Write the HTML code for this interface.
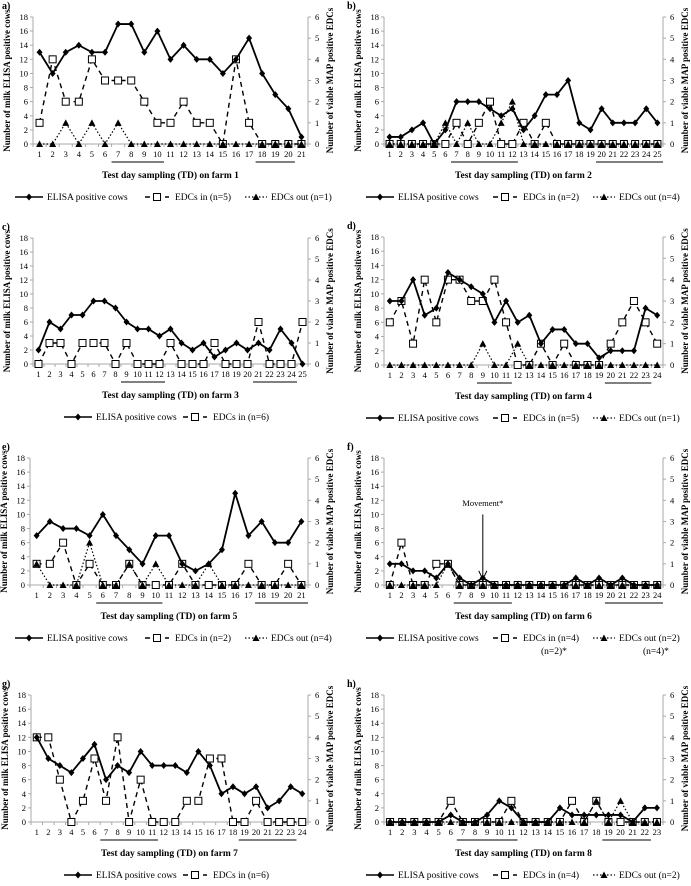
<!DOCTYPE html>
<html><head><meta charset="utf-8"><style>
html,body{margin:0;padding:0;background:#fff;}
svg, svg text{font-family:"Liberation Serif","DejaVu Serif",serif;}
</style></head><body>
<svg id="fig" width="691" height="881" viewBox="0 0 691 881" xmlns="http://www.w3.org/2000/svg" font-family="Liberation Serif, serif"></svg>
<script>
const elisaA=[13,10,13,14,13,13,17,17,13,16,12,14,12,12,10,12,15,10,7,5,1];
const inA=[1,4,2,2,4,3,3,3,2,1,1,2,1,1,0,4,1,0,0,0,0];
const outA=[0,0,1,0,1,0,1,0,0,0,0,0,0,0,0,0,0,0,0,0,0];
const elisaB=[1,1,2,3,0,2,6,6,6,5,4,5,2,4,7,7,9,3,2,5,3,3,3,5,3];
const inB=[0,0,0,0,0,0,1,0,1,2,0,0,1,0,1,0,0,0,0,0,0,0,0,0,0];
const outB=[0,0,0,0,0,1,0,1,0,0,1,2,0,0,0,0,0,0,0,0,0,0,0,0,0];
const elisaC=[2,6,5,7,7,9,9,8,6,5,5,4,5,3,2,3,1,2,3,2,3,2,5,3,0];
const inC=[0,1,1,0,1,1,1,0,1,0,0,0,1,0,0,0,1,0,0,0,2,0,0,0,2];
const elisaD=[9,9,12,7,8,13,12,11,10,6,9,6,7,3,5,5,3,3,1,2,2,2,8,7];
const inD=[2,3,1,4,2,4,4,3,3,4,2,0,0,1,0,1,0,0,0,1,2,3,2,1];
const outD=[0,0,0,0,0,0,0,0,1,0,0,1,0,0,0,0,0,0,0,0,0,0,0,0];
const elisaE=[7,9,8,8,7,10,7,5,3,7,7,3,2,3,5,13,7,9,6,6,9];
const inE=[1,1,2,0,1,0,0,1,0,0,0,1,0,0,0,0,1,0,0,1,0];
const outE=[1,0,0,0,2,0,0,1,0,1,0,0,0,1,0,0,0,0,0,0,0];
const elisaF=[3,3,2,2,1,3,1,0,1,0,0,0,0,0,0,0,1,0,1,0,1,0,0,0];
const inF=[0,2,0,0,1,1,0,0,0,0,0,0,0,0,0,0,0,0,0,0,0,0,0,0];
const outF=[0,0,0,0,0,1,0,0,0,0,0,0,0,0,0,0,0,0,0,0,0,0,0,0];
const elisaG=[12,9,8,7,9,11,6,8,7,10,8,8,8,7,10,8,4,5,4,5,2,3,5,4];
const inG=[4,4,2,0,1,3,1,4,0,2,0,0,0,1,1,3,3,0,0,1,0,0,0,0];
const elisaH=[0,0,0,0,0,1,0,0,1,3,2,0,0,0,2,1,1,1,1,1,0,2,2];
const inH=[0,0,0,0,0,1,0,0,0,0,1,0,0,0,0,1,0,1,0,0,0,0,0];
const outH=[0,0,0,0,0,0,0,0,0,0,0,0,0,0,0,0,0,1,0,1,0,0,0];
const leftTicks=[0,2,4,6,8,10,12,14,16,18];
const rightTicks=[0,1,2,3,4,5,6];

const panels=[
 {k:'a',farm:1,ox:0,oy:0,L:33,R:308,top:17,zero:144,e:elisaA,i:inA,o:outA,u:[[7,10],[18,20]],ni:5,no:1},
 {k:'b',farm:2,ox:345,oy:0,L:39,R:318,top:17,zero:144,e:elisaB,i:inB,o:outB,u:[[7,12],[20,25]],ni:2,no:4},
 {k:'c',farm:3,ox:0,oy:220,L:33,R:308,top:18,zero:144,e:elisaC,i:inC,o:null,u:[[9,12],[21,24]],ni:6},
 {k:'d',farm:4,ox:345,oy:220,L:39,R:318,top:17,zero:145,e:elisaD,i:inD,o:outD,u:[[9,11],[20,23]],ni:5,no:1},
 {k:'e',farm:5,ox:0,oy:440,L:30,R:308,top:18,zero:145,e:elisaE,i:inE,o:outE,u:[[6,10],[18,21]],ni:2,no:4},
 {k:'f',farm:6,ox:345,oy:440,L:39,R:318,top:18,zero:145,e:elisaF,i:inF,o:outF,u:[[7,11],[20,24]],ni:4,no:2,mv:9},
 {k:'g',farm:7,ox:0,oy:660,L:31,R:308,top:35,zero:162,e:elisaG,i:inG,o:null,u:[[7,11],[19,23]],ni:6},
 {k:'h',farm:8,ox:345,oy:660,L:39,R:318,top:35,zero:162,e:elisaH,i:inH,o:outH,u:[[7,11],[19,22]],ni:4,no:2}
];
const NS='http://www.w3.org/2000/svg';
const fig=document.getElementById('fig');
function mk(tag,attrs,parent,text){const el=document.createElementNS(NS,tag);for(const a in attrs)el.setAttribute(a,attrs[a]);if(tag==='text')el.setAttribute('font-family','Liberation Serif, serif');if(text!==undefined)el.textContent=text;parent.appendChild(el);return el;}
function diamond(g,x,y){mk('polygon',{points:`${x},${y-3.5} ${x+3},${y} ${x},${y+3.5} ${x-3},${y}`,fill:'#000'},g);}
function square(g,x,y){mk('rect',{x:x-3.5,y:y-3.5,width:7,height:7,fill:'#fff',stroke:'#000','stroke-width':1},g);}
function tri(g,x,y){mk('polygon',{points:`${x},${y-3.5} ${x+3.5},${y+3} ${x-3.5},${y+3}`,fill:'#000'},g);}
panels.forEach(p=>{
 const g=mk('g',{transform:`translate(${p.ox},${p.oy})`},fig);
 
 
 const n=p.e.length, bw=(p.R-p.L)/n;
 const X=i=>p.L+(i+0.5)*bw;
 const YL=v=>p.zero-(v/18)*(p.zero-p.top);
 const YR=v=>p.zero-(v/6)*(p.zero-p.top);
 const lab=mk('text',{x:2,y:p.top-8,'font-size':10,'font-weight':'bold'},g,p.k+')');
 
 
 mk('line',{x1:p.L,y1:p.top,x2:p.L,y2:p.zero,stroke:'#aaa'},g);
 mk('line',{x1:p.R,y1:p.top,x2:p.R,y2:p.zero,stroke:'#aaa'},g);
 mk('line',{x1:p.L,y1:p.zero,x2:p.R,y2:p.zero,stroke:'#aaa'},g);
 leftTicks.forEach(t=>{const y=YL(t);mk('line',{x1:p.L-3,y1:y,x2:p.L,y2:y,stroke:'#aaa'},g);
  const tt=mk('text',{x:p.L-5,y:y+3,'font-size':8.5,'text-anchor':'end'},g,t);});
 rightTicks.forEach(t=>{const y=YR(t);mk('line',{x1:p.R,y1:y,x2:p.R+3,y2:y,stroke:'#aaa'},g);
  const tt=mk('text',{x:p.R+7,y:y+3,'font-size':8.5},g,t);});
 for(let i=0;i<=n;i++){const x=p.L+i*bw;mk('line',{x1:x,y1:p.zero,x2:x,y2:p.zero+3,stroke:'#aaa'},g);}
 for(let i=0;i<n;i++){const tt=mk('text',{x:X(i),y:p.zero+13,'font-size':8.5,'text-anchor':'middle'},g,i+1);}
 p.u.forEach(r=>{const ul=mk('line',{x1:X(r[0]-1)-bw*0.5,y1:p.zero+18,x2:X(r[1]-1)+bw*0.5,y2:p.zero+18,stroke:'#000'},g);});
 const xt=mk('text',{x:(p.L+p.R)/2,y:p.zero+34,'font-size':9.5,'font-weight':'bold','text-anchor':'middle'},g,'Test day sampling (TD) on farm '+p.farm);
 
 const cy=(p.top+p.zero)/2;
 const yt=mk('text',{x:0,y:0,'font-size':9,'font-weight':'bold','text-anchor':'middle',transform:`translate(${p.L-23},${cy}) rotate(-90)`},g,'Number of  milk ELISA  positive cows');
 
 const yt2=mk('text',{x:0,y:0,'font-size':9,'font-weight':'bold','text-anchor':'middle',transform:`translate(${p.R+25},${cy}) rotate(-90)`},g,'Number of viable MAP positive EDCs');
 
 const ptsE=p.e.map((v,i)=>X(i)+','+YL(v)).join(' ');
 const ptsI=p.i.map((v,i)=>X(i)+','+YR(v)).join(' ');
 const sI=mk('g',{},g);
 mk('polyline',{points:ptsI,fill:'none',stroke:'#000','stroke-width':1.4,'stroke-dasharray':'5,4'},sI);
 if(p.o){const sO=mk('g',{},g);
  mk('polyline',{points:p.o.map((v,i)=>X(i)+','+YR(v)).join(' '),fill:'none',stroke:'#000','stroke-width':1.2,'stroke-dasharray':'1.5,2'},sO);
  p.o.forEach((v,i)=>tri(sO,X(i),YR(v)));}
 p.i.forEach((v,i)=>square(sI,X(i),YR(v)));
 const sE=mk('g',{},g);
 mk('polyline',{points:ptsE,fill:'none',stroke:'#000','stroke-width':1.8},sE);
 p.e.forEach((v,i)=>diamond(sE,X(i),YL(v)));
 if(p.mv){const x=X(p.mv-1);const ar=mk('g',{},g);
  mk('line',{x1:x,y1:YL(10),x2:x,y2:YL(0.8),stroke:'#000'},ar);
  mk('polyline',{points:`${x-4},${YL(2)} ${x},${YL(0.8)} ${x+4},${YL(2)}`,fill:'none',stroke:'#000'},ar);
  mk('text',{x:x,y:YL(11.2),'font-size':8.5,'text-anchor':'middle'},ar,'Movement*');}
 const ly=p.zero+53;
 const lg=mk('g',{},g);
 const two=!p.o;
 const s=two?64:(p.ox?21:15);
 mk('line',{x1:s,y1:ly,x2:s+28,y2:ly,stroke:'#000','stroke-width':1.6},lg);diamond(lg,s+14,ly);
 mk('text',{x:s+32,y:ly+3,'font-size':9.5},lg,'ELISA positive cows');
 const s2=two?183:(p.ox?148:145);
 mk('line',{x1:s2,y1:ly,x2:s2+24,y2:ly,stroke:'#000','stroke-width':1.4,'stroke-dasharray':'5,5'},lg);square(lg,s2+12,ly);
 mk('text',{x:s2+30,y:ly+3,'font-size':9.5},lg,'EDCs in (n='+p.ni+')');
 if(!two){const s3=p.ox?248:245;
  mk('line',{x1:s3,y1:ly,x2:s3+22,y2:ly,stroke:'#000','stroke-width':1.2,'stroke-dasharray':'1.5,2'},lg);tri(lg,s3+11,ly);
  mk('text',{x:s3+26,y:ly+3,'font-size':9.5},lg,'EDCs out (n='+p.no+')');}
 if(p.mv){mk('text',{x:s2+48,y:ly+16,'font-size':9.5},lg,'(n=2)*');mk('text',{x:298,y:ly+16,'font-size':9.5},lg,'(n=4)*');}
});
</script>
</body></html>
